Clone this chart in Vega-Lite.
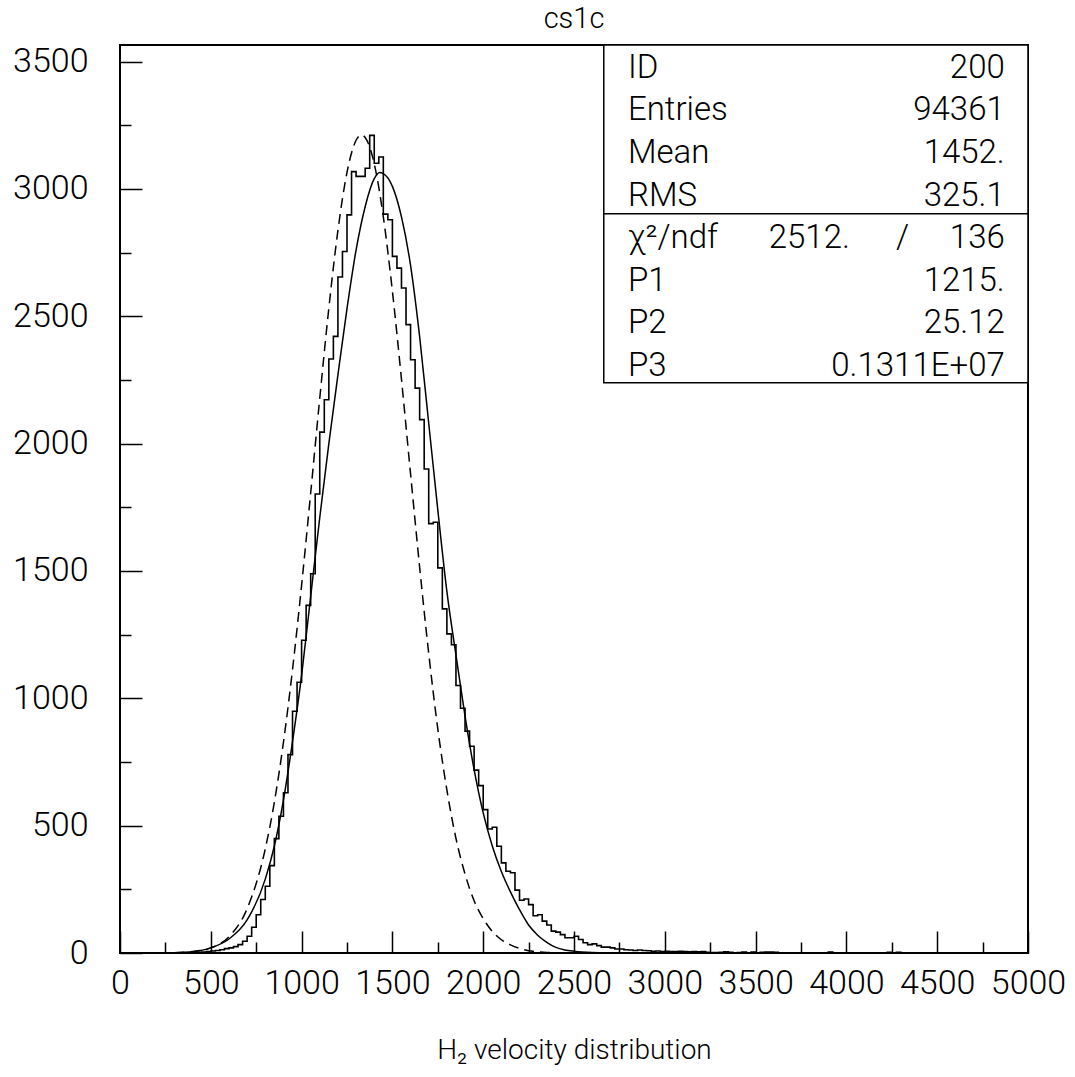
{
  "$schema": "https://vega.github.io/schema/vega-lite/v6.json",
  "width": 908,
  "height": 908,
  "autosize": "none",
  "padding": {"left": 120, "top": 45, "right": 47, "bottom": 124},
  "background": "white",
  "title": {"text": "cs1c", "font": "Roboto", "fontSize": 29, "fontWeight": 300, "color": "black", "offset": 10},
  "config": {
    "view": {"stroke": "black", "strokeWidth": 2},
    "font": "Roboto",
    "axis": {"grid": false, "domain": false, "tickColor": "black", "tickWidth": 1.5, "labelColor": "black", "labelFont": "Roboto", "labelFontWeight": 300, "labelFontSize": 34, "labelOverlap": false, "labelFlush": false, "format": "d", "titleColor": "black", "titleFont": "Roboto", "titleFontWeight": 300}
  },
  "datasets": {
    "hist": [
      {"x":0,"n":0},{"x":25,"n":0},{"x":50,"n":0},{"x":75,"n":0},{"x":100,"n":0},{"x":125,"n":0},{"x":150,"n":0},{"x":175,"n":0},{"x":200,"n":0},{"x":225,"n":0},
      {"x":250,"n":0},{"x":275,"n":0},{"x":300,"n":0},{"x":325,"n":0},{"x":350,"n":1},{"x":375,"n":1},{"x":400,"n":2},{"x":425,"n":3},{"x":450,"n":4},{"x":475,"n":6},
      {"x":500,"n":8},{"x":525,"n":10},{"x":550,"n":13},{"x":575,"n":17},{"x":600,"n":20},{"x":625,"n":25},{"x":650,"n":33},{"x":675,"n":46},{"x":700,"n":66},{"x":725,"n":101},
      {"x":750,"n":150},{"x":775,"n":210},{"x":800,"n":262},{"x":825,"n":343},{"x":850,"n":449},{"x":875,"n":537},{"x":900,"n":629},{"x":925,"n":779},{"x":950,"n":949},{"x":975,"n":1063},
      {"x":1000,"n":1228},{"x":1025,"n":1365},{"x":1050,"n":1489},{"x":1075,"n":1802},{"x":1100,"n":2045},{"x":1125,"n":2172},{"x":1150,"n":2332},{"x":1175,"n":2421},{"x":1200,"n":2654},{"x":1225,"n":2754},
      {"x":1250,"n":2898},{"x":1275,"n":3068},{"x":1300,"n":3049},{"x":1325,"n":3049},{"x":1350,"n":3081},{"x":1375,"n":3210},{"x":1400,"n":3101},{"x":1425,"n":3125},{"x":1450,"n":2901},{"x":1475,"n":2879},
      {"x":1500,"n":2735},{"x":1525,"n":2689},{"x":1550,"n":2611},{"x":1575,"n":2467},{"x":1600,"n":2329},{"x":1625,"n":2218},{"x":1650,"n":2094},{"x":1675,"n":1900},{"x":1700,"n":1686},{"x":1725,"n":1691},
      {"x":1750,"n":1512},{"x":1775,"n":1351},{"x":1800,"n":1253},{"x":1825,"n":1210},{"x":1850,"n":1050},{"x":1875,"n":961},{"x":1900,"n":871},{"x":1925,"n":812},{"x":1950,"n":718},{"x":1975,"n":657},
      {"x":2000,"n":563},{"x":2025,"n":487},{"x":2050,"n":494},{"x":2075,"n":419},{"x":2100,"n":354},{"x":2125,"n":321},{"x":2150,"n":315},{"x":2175,"n":247},{"x":2200,"n":207},{"x":2225,"n":212},
      {"x":2250,"n":190},{"x":2275,"n":146},{"x":2300,"n":150},{"x":2325,"n":125},{"x":2350,"n":110},{"x":2375,"n":86},{"x":2400,"n":82},{"x":2425,"n":72},{"x":2450,"n":60},{"x":2475,"n":60},
      {"x":2500,"n":66},{"x":2525,"n":53},{"x":2550,"n":40},{"x":2575,"n":33},{"x":2600,"n":36},{"x":2625,"n":29},{"x":2650,"n":23},{"x":2675,"n":23},{"x":2700,"n":20},{"x":2725,"n":16},
      {"x":2750,"n":16},{"x":2775,"n":13},{"x":2800,"n":12},{"x":2825,"n":10},{"x":2850,"n":12},{"x":2875,"n":10},{"x":2900,"n":9},{"x":2925,"n":7},{"x":2950,"n":8},{"x":2975,"n":6},
      {"x":3000,"n":7},{"x":3025,"n":6},{"x":3050,"n":6},{"x":3075,"n":7},{"x":3100,"n":6},{"x":3125,"n":5},{"x":3150,"n":6},{"x":3175,"n":5},{"x":3200,"n":6},{"x":3225,"n":3},
      {"x":3250,"n":2},{"x":3275,"n":2},{"x":3300,"n":3},{"x":3325,"n":5},{"x":3350,"n":3},{"x":3375,"n":1},{"x":3400,"n":2},{"x":3425,"n":4},{"x":3450,"n":1},{"x":3475,"n":4},
      {"x":3500,"n":1},{"x":3525,"n":3},{"x":3550,"n":4},{"x":3575,"n":4},{"x":3600,"n":3},{"x":3625,"n":1},{"x":3650,"n":0},{"x":3675,"n":1},{"x":3700,"n":0},{"x":3725,"n":0},
      {"x":3750,"n":1},{"x":3775,"n":0},{"x":3800,"n":0},{"x":3825,"n":0},{"x":3850,"n":1},{"x":3875,"n":0},{"x":3900,"n":4},{"x":3925,"n":0},{"x":3950,"n":0},{"x":3975,"n":0},
      {"x":4000,"n":0},{"x":4025,"n":0},{"x":4050,"n":0},{"x":4075,"n":0},{"x":4100,"n":0},{"x":4125,"n":0},{"x":4150,"n":0},{"x":4175,"n":0},{"x":4200,"n":0},{"x":4225,"n":3},
      {"x":4250,"n":1},{"x":4275,"n":3},{"x":4300,"n":1},{"x":4325,"n":0},{"x":4350,"n":0},{"x":4375,"n":0},{"x":4400,"n":0},{"x":4425,"n":0},{"x":4450,"n":0},{"x":4475,"n":0},
      {"x":4500,"n":0},{"x":4525,"n":0},{"x":4550,"n":0},{"x":4575,"n":0},{"x":4600,"n":0},{"x":4625,"n":0},{"x":4650,"n":0},{"x":4675,"n":0},{"x":4700,"n":0},{"x":4725,"n":0},
      {"x":4750,"n":0},{"x":4775,"n":0},{"x":4800,"n":0},{"x":4825,"n":0},{"x":4850,"n":0},{"x":4875,"n":0},{"x":4900,"n":0},{"x":4925,"n":0},{"x":4950,"n":0},{"x":4975,"n":0},
      {"x":5000,"n":0}
    ],
    "fit": [
      {"x":300,"f":1},{"x":400,"f":5},{"x":500,"f":20},{"x":600,"f":55},{"x":700,"f":130},{"x":800,"f":290},{"x":850,"f":420},{"x":900,"f":600},{"x":950,"f":830},{"x":1000,"f":1090},
      {"x":1050,"f":1400},{"x":1100,"f":1710},{"x":1150,"f":2000},{"x":1200,"f":2270},{"x":1250,"f":2530},{"x":1300,"f":2760},{"x":1350,"f":2930},{"x":1400,"f":3040},{"x":1430,"f":3064},{"x":1450,"f":3060},
      {"x":1500,"f":3010},{"x":1550,"f":2890},{"x":1600,"f":2700},{"x":1650,"f":2420},{"x":1700,"f":2080},{"x":1750,"f":1740},{"x":1800,"f":1420},{"x":1850,"f":1170},{"x":1900,"f":930},{"x":1950,"f":720},
      {"x":2000,"f":550},{"x":2050,"f":420},{"x":2100,"f":320},{"x":2150,"f":240},{"x":2200,"f":170},{"x":2250,"f":110},{"x":2300,"f":70},{"x":2350,"f":42},{"x":2400,"f":22},{"x":2450,"f":12},
      {"x":2500,"f":7},{"x":2600,"f":2},{"x":2700,"f":0.5}
    ],
    "gauss": [
      {"x":300,"g":1.3},{"x":400,"g":5.6},{"x":500,"g":20},{"x":600,"g":64},{"x":700,"g":174},{"x":800,"g":409},{"x":850,"g":592},{"x":900,"g":827},{"x":950,"g":1113},{"x":1000,"g":1444},
      {"x":1050,"g":1806},{"x":1100,"g":2178},{"x":1150,"g":2532},{"x":1200,"g":2837},{"x":1250,"g":3065},{"x":1300,"g":3191},{"x":1330,"g":3212},{"x":1350,"g":3202},{"x":1400,"g":3099},{"x":1450,"g":2890},
      {"x":1500,"g":2598},{"x":1550,"g":2252},{"x":1600,"g":1881},{"x":1650,"g":1515},{"x":1700,"g":1176},{"x":1750,"g":880},{"x":1800,"g":640},{"x":1850,"g":450},{"x":1900,"g":310},{"x":1950,"g":205},
      {"x":2000,"g":135},{"x":2050,"g":85},{"x":2100,"g":52},{"x":2150,"g":32},{"x":2200,"g":18},{"x":2250,"g":9},{"x":2300,"g":5},{"x":2350,"g":2},{"x":2400,"g":1},{"x":2500,"g":0.3},{"x":2600,"g":0.1}
    ],
    "box": [{"x":2664,"x2":5000,"y":2239,"y2":3565}],
    "divider": [{"x":2664,"x2":5000,"y":2902}],
    "stats": [
      {"t":"ID","x":2797,"y":3475,"side":"L"},
      {"t":"Entries","x":2797,"y":3310,"side":"L"},
      {"t":"Mean","x":2797,"y":3142,"side":"L"},
      {"t":"RMS","x":2797,"y":2973,"side":"L"},
      {"t":"χ²/ndf","x":2797,"y":2808,"side":"L"},
      {"t":"P1","x":2797,"y":2640,"side":"L"},
      {"t":"P2","x":2797,"y":2475,"side":"L"},
      {"t":"P3","x":2797,"y":2306,"side":"L"},
      {"t":"200","x":4872,"y":3475,"side":"R"},
      {"t":"94361","x":4872,"y":3310,"side":"R"},
      {"t":"1452.","x":4872,"y":3142,"side":"R"},
      {"t":"325.1","x":4872,"y":2973,"side":"R"},
      {"t":"2512.","x":4019,"y":2808,"side":"R"},
      {"t":"/","x":4345,"y":2808,"side":"R"},
      {"t":"136","x":4872,"y":2808,"side":"R"},
      {"t":"1215.","x":4872,"y":2640,"side":"R"},
      {"t":"25.12","x":4872,"y":2475,"side":"R"},
      {"t":"0.1311E+07","x":4872,"y":2306,"side":"R"}
    ]
  },
  "resolve": {"axis": {"x": "independent", "y": "independent"}},
  "layer": [
    {
      "data": {"name": "hist"},
      "mark": {"type": "line", "interpolate": "step-after", "color": "black", "strokeWidth": 1.6},
      "encoding": {
        "x": {"field": "x", "type": "quantitative", "scale": {"domain": [0, 5000], "nice": false, "zero": false},
              "axis": {"orient": "bottom", "values": [0,500,1000,1500,2000,2500,3000,3500,4000,4500,5000], "tickSize": -22, "labelPadding": 35, "title": "H₂ velocity distribution", "titleFontSize": 28, "titlePadding": 36}},
        "y": {"field": "n", "type": "quantitative", "scale": {"domain": [0, 3565], "nice": false, "zero": false},
              "axis": {"orient": "left", "values": [0,500,1000,1500,2000,2500,3000,3500], "tickSize": -22, "labelPadding": 54, "title": null}}
      }
    },
    {
      "data": {"name": "fit"},
      "mark": {"type": "line", "interpolate": "monotone", "color": "black", "strokeWidth": 1.5},
      "encoding": {
        "x": {"field": "x", "type": "quantitative", "scale": {"domain": [0, 5000], "nice": false, "zero": false},
              "axis": {"orient": "bottom", "values": [250,750,1250,1750,2250,2750,3250,3750,4250,4750], "tickSize": -11, "labels": false, "title": null}},
        "y": {"field": "f", "type": "quantitative", "scale": {"domain": [0, 3565], "nice": false, "zero": false},
              "axis": {"orient": "left", "values": [250,750,1250,1750,2250,2750,3250], "tickSize": -11, "labels": false, "title": null}}
      }
    },
    {
      "data": {"name": "gauss"},
      "mark": {"type": "line", "interpolate": "monotone", "color": "black", "strokeWidth": 1.5, "strokeDash": [10, 6]},
      "encoding": {
        "x": {"field": "x", "type": "quantitative", "scale": {"domain": [0, 5000], "nice": false, "zero": false}, "axis": null},
        "y": {"field": "g", "type": "quantitative", "scale": {"domain": [0, 3565], "nice": false, "zero": false}, "axis": null}
      }
    },
    {
      "data": {"name": "box"},
      "mark": {"type": "rect", "fill": "white", "stroke": "black", "strokeWidth": 1.5},
      "encoding": {
        "x": {"field": "x", "type": "quantitative", "scale": {"domain": [0, 5000], "nice": false, "zero": false}, "axis": null},
        "x2": {"field": "x2"},
        "y": {"field": "y", "type": "quantitative", "scale": {"domain": [0, 3565], "nice": false, "zero": false}, "axis": null},
        "y2": {"field": "y2"}
      }
    },
    {
      "data": {"name": "divider"},
      "mark": {"type": "rule", "color": "black", "strokeWidth": 1.5},
      "encoding": {
        "x": {"field": "x", "type": "quantitative", "scale": {"domain": [0, 5000], "nice": false, "zero": false}, "axis": null},
        "x2": {"field": "x2"},
        "y": {"field": "y", "type": "quantitative", "scale": {"domain": [0, 3565], "nice": false, "zero": false}, "axis": null}
      }
    },
    {
      "data": {"name": "stats"},
      "transform": [{"filter": "datum.side === 'L'"}],
      "mark": {"type": "text", "align": "left", "baseline": "middle", "font": "Roboto", "fontSize": 33, "fontWeight": 300, "color": "black"},
      "encoding": {
        "x": {"field": "x", "type": "quantitative", "scale": {"domain": [0, 5000], "nice": false, "zero": false}, "axis": null},
        "y": {"field": "y", "type": "quantitative", "scale": {"domain": [0, 3565], "nice": false, "zero": false}, "axis": null},
        "text": {"field": "t"}
      }
    },
    {
      "data": {"name": "stats"},
      "transform": [{"filter": "datum.side === 'R'"}],
      "mark": {"type": "text", "align": "right", "baseline": "middle", "font": "Roboto", "fontSize": 33, "fontWeight": 300, "color": "black"},
      "encoding": {
        "x": {"field": "x", "type": "quantitative", "scale": {"domain": [0, 5000], "nice": false, "zero": false}, "axis": null},
        "y": {"field": "y", "type": "quantitative", "scale": {"domain": [0, 3565], "nice": false, "zero": false}, "axis": null},
        "text": {"field": "t"}
      }
    }
  ]
}
